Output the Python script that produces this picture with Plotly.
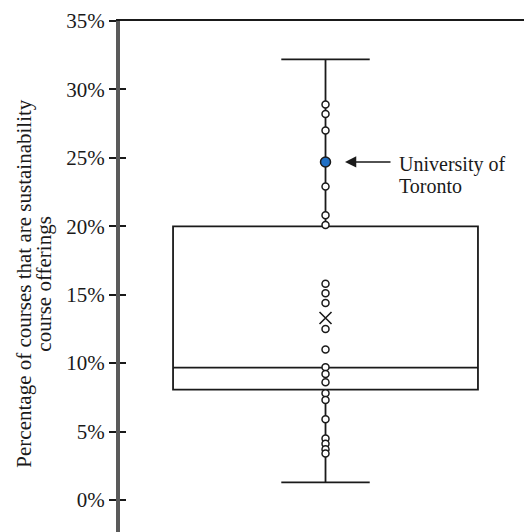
import plotly.graph_objects as go

# ---- data (percent) ----
box_q1 = [8.07]
box_median = [9.67]
box_q3 = [20.0]
box_lower = [1.28]
box_upper = [32.2]
box_mean = [13.3]

points = [28.9, 28.2, 27.0, 22.9, 20.8, 20.1,
          15.8, 15.1, 14.4, 12.5, 11.0,
          9.7, 9.2, 8.6, 7.8, 7.3, 5.9, 4.5, 4.1, 3.7, 3.4]
highlight_value = [24.7]
highlight_lines = ["University of", "Toronto"]

y_ticks = [0, 5, 10, 15, 20, 25, 30, 35]
y_tick_labels = ["0%", "5%", "10%", "15%", "20%", "25%", "30%", "35%"]
y_title_lines = ["Percentage of courses that are sustainability",
                 "course offerings"]

FONT = "Liberation Serif"
INK = "#1a1a1a"

fig = go.Figure()
fig.add_trace(go.Box(
    x=[0], q1=box_q1, median=box_median, q3=box_q3,
    lowerfence=box_lower, upperfence=box_upper,
    width=1.0, whiskerwidth=0.29, boxpoints=False,
    fillcolor="rgba(255,255,255,0)",
    line=dict(color=INK, width=1.8),
    showlegend=False, hoverinfo="skip",
))
fig.add_trace(go.Scatter(
    x=[0] * len(points), y=points, mode="markers",
    marker=dict(symbol="circle", size=7, color="white",
                line=dict(color=INK, width=1.5)),
    showlegend=False,
))
fig.add_trace(go.Scatter(
    x=[0], y=box_mean, mode="markers",
    marker=dict(symbol="x-thin", size=12, line=dict(color=INK, width=1.6)),
    showlegend=False,
))
fig.add_trace(go.Scatter(
    x=[0], y=highlight_value, mode="markers",
    marker=dict(symbol="circle", size=10, color="#1f6fc5",
                line=dict(color=INK, width=1.5)),
    showlegend=False,
))
# dummy trace so the overlay axis (inner half of the crossing ticks) renders
fig.add_trace(go.Scatter(x=[None], y=[None], yaxis="y2", showlegend=False,
                         hoverinfo="skip"))

# arrow + label
fig.add_annotation(x=0.064, y=highlight_value[0], xref="x", yref="y",
                   text="", showarrow=True, ax=47, ay=0,
                   arrowhead=2, arrowsize=1.5, arrowwidth=1.5,
                   arrowcolor=INK, standoff=0)
for i, line in enumerate(highlight_lines):
    fig.add_annotation(x=0.236, y=highlight_value[0], xref="x", yref="y",
                       text=line, showarrow=False, xanchor="left",
                       yanchor="middle", yshift=-3 - 21 * i,
                       font=dict(family=FONT, size=20, color=INK))

# rotated two-line axis title
for i, line in enumerate(y_title_lines):
    fig.add_annotation(x=0, y=0.486, xref="paper", yref="paper",
                       text=line, showarrow=False, textangle=-90,
                       xanchor="center", yanchor="middle",
                       xshift=-96 + 20 * i,
                       font=dict(family=FONT, size=21, color=INK))

fig.update_layout(
    width=524, height=532,
    margin=dict(l=120, r=0, t=21, b=0),
    paper_bgcolor="white", plot_bgcolor="white",
    xaxis=dict(range=[-0.674, 0.651], side="top", showline=True,
               linecolor=INK, linewidth=1.5, showticklabels=False,
               ticks="", showgrid=False, zeroline=False, automargin=False),
    yaxis=dict(range=[-2.34, 35], tickvals=y_ticks, ticktext=y_tick_labels,
               showline=True, linecolor="#5a5a5a", linewidth=4,
               ticks="outside", ticklen=7, tickwidth=1.5, tickcolor=INK,
               showgrid=False, zeroline=False, automargin=False,
               tickfont=dict(family=FONT, size=21, color=INK)),
    yaxis2=dict(range=[-2.34, 35], tickvals=y_ticks, overlaying="y",
                side="left", ticks="inside", ticklen=6, tickwidth=1.5,
                tickcolor=INK, showticklabels=False, showline=False,
                showgrid=False, zeroline=False, automargin=False),
    showlegend=False,
)

fig.write_html("out.html", config={"displayModeBar": False},
               post_script="document.body.style.margin='0';"
                           "document.body.style.overflow='hidden';")
